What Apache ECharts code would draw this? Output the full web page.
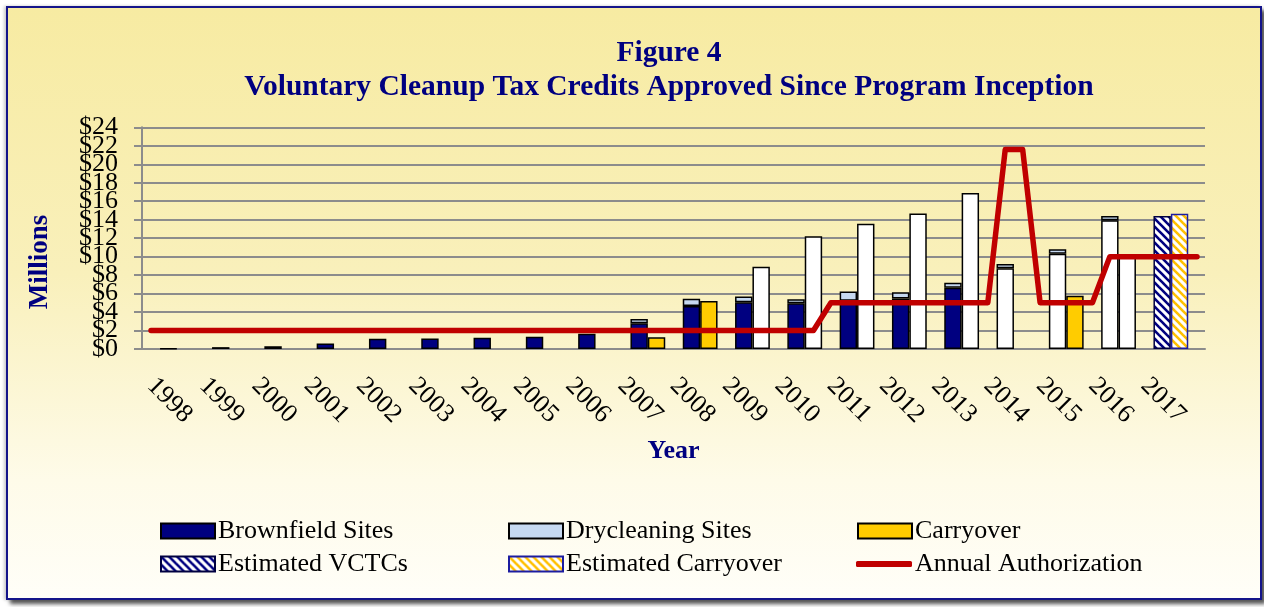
<!DOCTYPE html>
<html>
<head>
<meta charset="utf-8">
<title>Figure 4</title>
<script src="https://cdn.jsdelivr.net/npm/echarts@6/dist/echarts.min.js"></script>
<style>
  html, body { margin: 0; padding: 0; background: #ffffff; }
  #frame {
    position: absolute; left: 6px; top: 6px; width: 1252px; height: 590px;
    border: 2px solid #14148a;
    background: linear-gradient(to bottom, #f7eba2 0%, #f9f0bb 45%, #fefbe9 80%, #fffef8 100%);
    box-shadow: 4px 4px 4px #555555, -2px 0 3px #cccccc;
  }
  #chart { position: absolute; left: 0; top: 0; width: 1264px; height: 607px; }
</style>
</head>
<body>
<div id="frame"></div>
<div id="chart"></div>
<script>
// years on the category axis
const years = ['1998', '1999', '2000', '2001', '2002', '2003', '2004', '2005', '2006', '2007',
  '2008', '2009', '2010', '2011', '2012', '2013', '2014', '2015', '2016', '2017'];
// value axis tick labels, bottom to top
const yTickLabels = ['$0', '$2', '$4', '$6', '$8', '$10', '$12', '$14', '$16', '$18', '$20', '$22', '$24'];

// left bar of each year ($ millions)
const brownfield = [0.07, 0.2, 0.3, 0.6, 1.12, 1.15, 1.22, 1.33, 1.65, 2.78,
  4.65, 5.05, 4.94, 5.23, 5.48, 6.64, null, null, null, null];
const openLeft = [null, null, null, null, null, null, null, null, null, null,
  null, null, null, null, null, null, 8.73, 10.3, 13.93, null];
const drycleaning = [null, null, null, null, null, null, null, null, null, 0.47,
  0.8, 0.62, 0.44, 1.0, 0.65, 0.54, 0.47, 0.5, 0.47, null];
const estimatedVctc = [null, null, null, null, null, null, null, null, null, null,
  null, null, null, null, null, null, null, null, null, 14.4];

// right bar of each year
const carryover = [null, null, null, null, null, null, null, null, null, 1.26,
  5.2, null, null, null, null, null, null, 5.77, null, null];
const openRight = [null, null, null, null, null, null, null, null, null, null,
  null, 8.9, 12.2, 13.56, 14.68, 16.9, null, null, 10.25, null];
const estimatedCarryover = [null, null, null, null, null, null, null, null, null, null,
  null, null, null, null, null, null, null, null, null, 14.65];

// annual authorization, three points per year (category edge, left bar, right bar) + end
const authorization = [
  2, 2, 2, 2, 2, 2, 2, 2, 2, 2,
  2, 2, 2, 2, 2, 2, 2, 2, 2, 2,
  2, 2, 2, 2, 2, 2, 2, 2, 2, 2,
  2, 2, 2, 2, 2, 2, 2, 2, 2, 5,
  5, 5, 5, 5, 5, 5, 5, 5, 5, 21.6,
  21.6, 5, 5, 5, 5, 10, 10, 10, 10, 10,
  10
];

const serif = '"Liberation Serif", "Times New Roman", serif';
const navy = '#000080';

// diagonal hatch fill
function hatch(stripe) {
  const c = document.createElement('canvas');
  c.width = 8; c.height = 8;
  const ctx = c.getContext('2d');
  ctx.fillStyle = '#ffffff';
  ctx.fillRect(0, 0, 8, 8);
  ctx.strokeStyle = stripe;
  ctx.lineWidth = 2.6;
  [-8, 0, 8].forEach(o => {
    ctx.beginPath();
    ctx.moveTo(o - 2, -2);
    ctx.lineTo(o + 10, 10);
    ctx.stroke();
  });
  return { image: c, repeat: 'repeat' };
}

const chart = echarts.init(document.getElementById('chart'), null, { renderer: 'canvas' });

const gridTop = 127.3;
const gridBottom = 258;

const barBase = {
  type: 'bar',
  xAxisIndex: 1,
  yAxisIndex: 1,
  barWidth: 17.4,
  barGap: '0%',
  z: 3
};

function legendAt(name, left, top, extra) {
  return Object.assign({
    data: [name],
    left: left,
    top: top,
    padding: 0,
    icon: 'rect',
    itemWidth: 54,
    itemHeight: 15,
    selectedMode: false,
    textStyle: { fontFamily: serif, fontSize: 26, color: '#000', lineHeight: 28, padding: [0, 0, 0, -2] }
  }, extra || {});
}

const option = {
  animation: false,
  backgroundColor: 'transparent',
  title: {
    text: 'Figure 4\nVoluntary Cleanup Tax Credits Approved Since Program Inception',
    left: 664,
    textAlign: 'center',
    top: 31,
    textStyle: { fontFamily: serif, fontSize: 29.5, fontWeight: 'bold', color: navy, lineHeight: 34 }
  },
  graphic: [{
    type: 'text',
    x: 40,
    y: 262,
    rotation: Math.PI / 2,
    style: {
      text: 'Millions',
      align: 'center',
      verticalAlign: 'middle',
      font: 'bold 27px ' + serif,
      fill: navy
    }
  }],
  legend: [
    legendAt('Brownfield Sites', 160, 517),
    legendAt('Drycleaning Sites', 508, 517),
    legendAt('Carryover', 857, 517),
    legendAt('Estimated VCTCs', 160, 550),
    legendAt('Estimated Carryover', 508, 550),
    legendAt('Annual Authorization', 856, 550, { icon: 'roundRect', itemWidth: 56, itemHeight: 6, itemStyle: { borderWidth: 0 } })
  ],
  grid: [
    { left: 142, right: 59, top: gridTop, bottom: gridBottom },
    { left: 151, right: 67, top: gridTop, bottom: gridBottom },
    { left: 125, right: 93, top: gridTop, bottom: gridBottom }
  ],
  xAxis: [
    {
      gridIndex: 0, type: 'value', min: 0, max: 1,
      axisLine: { show: true, onZero: false, lineStyle: { color: '#8c8c8c', width: 2 } },
      axisTick: { show: false }, axisLabel: { show: false }, splitLine: { show: false },
      name: 'Year', nameLocation: 'middle', nameGap: 89,
      nameTextStyle: { fontFamily: serif, fontSize: 26, fontWeight: 'bold', color: navy }
    },
    { gridIndex: 1, type: 'category', data: years, show: false },
    { gridIndex: 1, type: 'category', data: authorization.map((v, i) => String(i)), boundaryGap: false, show: false },
    {
      gridIndex: 2, type: 'category', data: years,
      axisLine: { show: false }, axisTick: { show: false },
      axisLabel: { interval: 0, rotate: -45, margin: 33, fontFamily: serif, fontSize: 26, color: '#000' }
    }
  ],
  yAxis: [
    {
      gridIndex: 0, type: 'value', min: 0, max: 24, interval: 2, position: 'left',
      axisLine: { show: true, lineStyle: { color: '#8c8c8c', width: 2 } },
      axisTick: { show: true, length: 8, lineStyle: { color: '#8c8c8c', width: 2 } },
      splitLine: { lineStyle: { color: '#8c8c8c', width: 2 } },
      axisLabel: { show: false }
    },
    { gridIndex: 1, type: 'value', min: 0, max: 24, show: false, splitLine: { show: false } },
    { gridIndex: 2, type: 'value', min: 0, max: 24, show: false, splitLine: { show: false } },
    {
      // label-only axis so every tick label is drawn even where they crowd
      gridIndex: 2, type: 'category', data: yTickLabels, boundaryGap: false,
      position: 'left', offset: -17,
      axisLine: { show: false }, axisTick: { show: false }, splitLine: { show: false },
      axisLabel: { interval: 0, margin: 24, fontFamily: serif, fontSize: 26, color: '#000' }
    }
  ],
  series: [
    Object.assign({}, barBase, {
      name: 'Brownfield Sites', stack: 'left', data: brownfield,
      itemStyle: { color: navy, borderColor: '#000', borderWidth: 1.5 }
    }),
    Object.assign({}, barBase, {
      name: 'open-left', stack: 'left', data: openLeft,
      itemStyle: { color: '#ffffff', borderColor: '#000', borderWidth: 1.5 }
    }),
    Object.assign({}, barBase, {
      name: 'Drycleaning Sites', stack: 'left', data: drycleaning,
      itemStyle: { color: '#c6d9f1', borderColor: '#000', borderWidth: 1.5 }
    }),
    Object.assign({}, barBase, {
      name: 'Estimated VCTCs', stack: 'left', data: estimatedVctc,
      itemStyle: { color: hatch(navy), borderColor: '#000040', borderWidth: 1.5 }
    }),
    Object.assign({}, barBase, {
      name: 'Carryover', stack: 'right', data: carryover,
      itemStyle: { color: '#ffcc00', borderColor: '#000', borderWidth: 1.5 }
    }),
    Object.assign({}, barBase, {
      name: 'open-right', stack: 'right', data: openRight,
      itemStyle: { color: '#ffffff', borderColor: '#000', borderWidth: 1.5 }
    }),
    Object.assign({}, barBase, {
      name: 'Estimated Carryover', stack: 'right', data: estimatedCarryover,
      itemStyle: { color: hatch('#ffc000'), borderColor: '#1c1ca0', borderWidth: 1.5 }
    }),
    {
      name: 'Annual Authorization',
      type: 'line',
      xAxisIndex: 2,
      yAxisIndex: 1,
      data: authorization,
      symbol: 'none',
      z: 5,
      lineStyle: { color: '#c00000', width: 5.5, cap: 'round', join: 'round' },
      itemStyle: { color: '#c00000' }
    }
  ]
};

chart.setOption(option);
</script>
</body>
</html>
